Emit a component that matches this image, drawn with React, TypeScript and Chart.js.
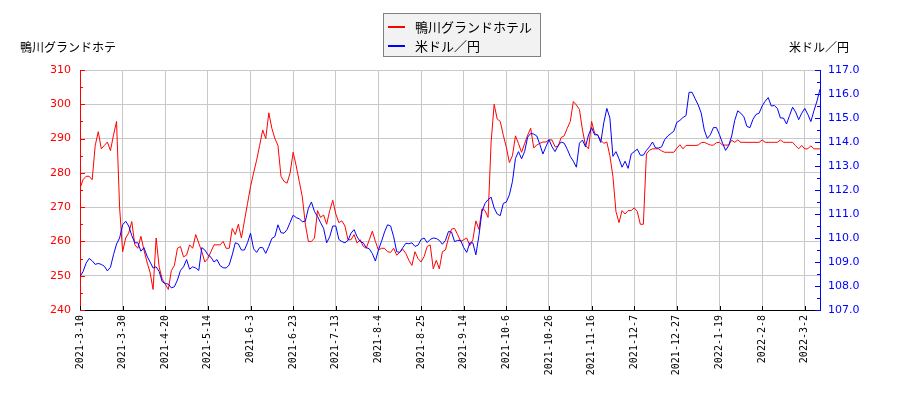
import { useEffect, useRef } from "react";
import { Chart, registerables } from "chart.js";

Chart.register(...registerables);

// one tick label every 14 trading days
const tickLabels = [
  "2021-3-10", "2021-3-30", "2021-4-20", "2021-5-14", "2021-6-3", "2021-6-23",
  "2021-7-13", "2021-8-4", "2021-8-25", "2021-9-14", "2021-10-6", "2021-10-26",
  "2021-11-16", "2021-12-7", "2021-12-27", "2022-1-19", "2022-2-8", "2022-3-2",
];
const tickStep = 14;

const hotelPrices = [
  275.5, 278, 279, 279, 278, 288, 292, 287, 288, 289, 286.5, 291, 295, 270,
  257, 261, 262.5, 265.8, 259, 258, 261.5, 257.5, 254, 251, 246, 261, 252.5, 249, 247.5, 246, 251.5,
  253, 258, 258.5, 255.5, 256, 259, 258, 262, 259.5, 257, 254, 255, 257, 259, 259, 259, 260, 258, 258, 263.8, 262, 265, 261, 266, 271, 276,
  280, 283.7, 288, 292.5, 290, 297.5, 293, 290, 288, 279, 277.5, 277, 280, 286, 282, 277.5, 273,
  265, 260, 260, 261, 269, 267, 267.7, 265, 269, 272, 268, 265.5, 266, 264.5, 260.5, 260.5, 262, 259.5,
  260.5, 258.6, 258, 260.5, 263, 260, 257.5, 258, 258, 257, 256.8, 258, 256, 256.8, 257.7, 256.5, 254.5,
  253, 257, 255, 254, 255.6, 258.5, 259, 252, 254.5, 252, 257, 257.5, 261,
  263.6, 263.8, 262, 260, 260.5, 261, 258.8, 260.5, 266, 263.5, 269.5, 269, 267, 289, 300, 295.7, 295,
  291, 287.5, 283, 285, 290.8, 288.5, 286, 288.5, 291, 293, 287.3, 288.1, 288.6,
  289, 289, 289.6, 289.6, 287.6, 287.7, 290.3, 290.8, 293, 295, 300.8, 299.8, 298.5, 292.5, 288, 287,
  295, 291.5, 291, 289.5, 288.6, 289, 285, 279, 268.7, 265.5, 269, 268, 269, 269, 269.8,
  268.7, 265, 265, 285.5, 286.6, 287, 287, 287, 286.4, 286, 286, 286, 286, 287.2, 288.2, 287, 288, 288,
  288, 288, 288.1, 288.8, 288.9, 288.5, 288.1, 288.1, 288.8, 288.9, 288.1, 288.1,
  288.1, 289.5, 288.9, 289.6, 288.9, 288.9, 288.9, 288.9, 288.9, 288.9, 288.9, 289.6, 288.9, 288.9, 288.9,
  288.9, 288.9, 289.6, 288.9, 288.9, 288.9, 288.9, 287.9, 287, 288, 287, 287, 287.9, 287, 287, 287,
];

const usdJpy = [
  108.39, 108.6, 108.95, 109.15, 109.05, 108.9, 108.94, 108.9, 108.82, 108.63, 108.78, 109.3, 109.75, 110.0,
  110.55, 110.7, 110.5, 110.1, 109.8, 109.8, 109.45, 109.6, 109.25, 109.0, 108.75, 108.8, 108.6, 108.18, 108.1, 108.08, 107.92,
  107.97, 108.25, 108.65, 108.8, 109.1, 108.7, 108.8, 108.75, 108.65, 109.6, 109.5, 109.3, 109.2, 109.0, 109.1, 108.85,
  108.76, 108.75, 108.88, 109.3, 109.8, 109.75, 109.5, 109.5, 109.8, 110.2,
  109.55, 109.4, 109.6, 109.6, 109.36, 109.65, 109.98, 110.06, 110.55, 110.22, 110.2, 110.35, 110.65, 110.95, 110.85, 110.8, 110.68,
  110.7, 111.24, 111.5, 111.1, 110.9, 110.64, 110.4, 109.8, 110.05, 110.5, 110.5, 109.94, 109.85, 109.8, 109.9, 110.2,
  110.35, 110.05, 109.85, 109.8, 109.6, 109.55, 109.35, 109.04, 109.5, 109.85, 110.25, 110.55, 110.5, 110.05, 109.43, 109.4,
  109.6, 109.78, 109.76, 109.8, 109.65, 109.7, 109.94, 110.0, 109.81, 109.94, 110.0, 109.98, 109.9, 109.74, 109.9, 110.27,
  110.25, 109.85, 109.9, 109.9, 109.6, 109.4, 109.8, 109.8, 109.3, 110.1, 111.1, 111.44, 111.6, 111.7, 111.25,
  111.0, 110.93, 111.44, 111.5, 111.8, 112.35, 113.32, 113.6, 113.3, 113.6, 114.2, 114.36, 114.33, 114.25, 113.9,
  113.5, 113.8, 114.1, 113.8, 113.6, 113.85, 114.0, 113.95, 113.7, 113.4, 113.2, 112.95, 113.95, 114.08, 113.8, 114.3,
  114.6, 114.3, 114.3, 113.98, 114.8, 115.4, 115.0, 113.4, 113.6, 113.3, 112.95, 113.2, 112.9, 113.5, 113.6,
  113.7, 113.45, 113.45, 113.65, 113.8, 114.0, 113.75, 113.75, 113.8, 114.1, 114.25, 114.35, 114.45, 114.82, 114.9,
  115.02, 115.1, 116.07, 116.07, 115.8, 115.55, 115.2, 114.5, 114.15, 114.3, 114.6, 114.6, 114.3, 113.95, 113.65,
  113.85, 114.25, 114.9, 115.3, 115.2, 115.05, 114.65, 114.6, 114.95, 115.15, 115.2, 115.5, 115.7, 115.85, 115.5, 115.52,
  115.4, 115.0, 115.0, 114.75, 115.1, 115.45, 115.25, 114.93, 115.2, 115.4, 115.15, 114.85, 115.3, 115.7, 116.2,
];

const seriesNames = ["鴨川グランドホテル", "米ドル／円"];
const leftTitle = "鴨川グランドホテ";
const rightTitle = "米ドル／円";

const RED = "#ff0000";
const BLUE = "#0000ff";
const GRID = "#c8c8c8";
const CJK = '"Noto Sans CJK JP", sans-serif';

// inward tick marks, axis titles and the boxed legend
const decorations = {
  id: "decorations",
  afterDraw(chart: any) {
    const { ctx, chartArea: a, scales } = chart;
    ctx.save();
    ctx.lineWidth = 1;

    ctx.strokeStyle = "#000";
    scales.x.ticks.forEach((t: any) => {
      const px = Math.round(scales.x.getPixelForValue(t.value)) + 0.5;
      ctx.beginPath();
      ctx.moveTo(px, a.bottom - 4);
      ctx.lineTo(px, a.bottom);
      ctx.stroke();
    });

    ctx.strokeStyle = RED;
    scales.y.ticks.forEach((t: any) => {
      const py = Math.round(scales.y.getPixelForValue(t.value)) + 0.5;
      const len = t.value % 10 === 0 ? 5 : 3;
      ctx.beginPath();
      ctx.moveTo(a.left, py);
      ctx.lineTo(a.left + len, py);
      ctx.stroke();
    });

    ctx.strokeStyle = BLUE;
    scales.y1.ticks.forEach((t: any) => {
      const py = Math.round(scales.y1.getPixelForValue(t.value)) + 0.5;
      const len = Number.isInteger(t.value) ? 5 : 3;
      ctx.beginPath();
      ctx.moveTo(a.right, py);
      ctx.lineTo(a.right - len, py);
      ctx.stroke();
    });

    ctx.fillStyle = "#000";
    ctx.font = `12px ${CJK}`;
    ctx.textBaseline = "middle";
    ctx.textAlign = "left";
    ctx.fillText(leftTitle, 20, 47);
    ctx.textAlign = "right";
    ctx.fillText(rightTitle, 849, 47);

    // legend box
    ctx.fillStyle = "#f2f2f2";
    ctx.fillRect(383.5, 13.5, 157, 43);
    ctx.strokeStyle = "#808080";
    ctx.strokeRect(383.5, 13.5, 157, 43);
    const rows = [
      { color: RED, y: 27 },
      { color: BLUE, y: 46 },
    ];
    ctx.font = `13px ${CJK}`;
    ctx.textAlign = "left";
    rows.forEach((r, i) => {
      ctx.strokeStyle = r.color;
      ctx.lineWidth = 2;
      ctx.beginPath();
      ctx.moveTo(388, r.y);
      ctx.lineTo(405, r.y);
      ctx.stroke();
      ctx.fillStyle = "#000";
      ctx.fillText(seriesNames[i], 415, r.y);
    });

    ctx.restore();
  },
};

export default function App() {
  const chartRef = useRef<HTMLCanvasElement>(null);
  const chartInstance = useRef<Chart | null>(null);

  useEffect(() => {
    if (!chartRef.current) return;
    if (chartInstance.current) chartInstance.current.destroy();
    const ctx = chartRef.current.getContext("2d");
    if (!ctx) return;

    chartInstance.current = new Chart(ctx, {
      type: "line",
      data: {
        datasets: [
          {
            label: seriesNames[0],
            data: hotelPrices.map((v, i) => ({ x: i, y: v })),
            borderColor: RED,
            borderWidth: 1,
            pointRadius: 0,
            tension: 0,
            yAxisID: "y",
            order: 1,
          },
          {
            label: seriesNames[1],
            data: usdJpy.map((v, i) => ({ x: i, y: v })),
            borderColor: BLUE,
            borderWidth: 1,
            pointRadius: 0,
            tension: 0,
            yAxisID: "y1",
            order: 0,
          },
        ],
      },
      options: {
        responsive: true,
        maintainAspectRatio: false,
        animation: false,
        layout: { padding: { top: 70, left: 0, right: 0, bottom: 0 } },
        plugins: {
          legend: { display: false },
          tooltip: { enabled: false },
        },
        scales: {
          x: {
            type: "linear",
            min: 0,
            max: hotelPrices.length - 1,
            afterFit: (s: any) => {
              s.height = 90;
            },
            grid: {
              color: (c: any) => (c.tick && c.tick.value === 0 ? "transparent" : GRID),
              drawTicks: false,
            },
            border: { color: "#000" },
            ticks: {
              stepSize: tickStep,
              includeBounds: false,
              autoSkip: false,
              minRotation: 90,
              maxRotation: 90,
              padding: 5,
              color: "#000",
              font: { family: '"DejaVu Sans Mono", monospace', size: 10 },
              callback: (v: any) => tickLabels[Math.round(Number(v) / tickStep)] ?? "",
            },
          },
          y: {
            position: "left",
            min: 240,
            max: 310,
            afterFit: (s: any) => {
              s.width = 80;
            },
            grid: {
              color: (c: any) =>
                c.tick && c.tick.value % 10 === 0 && c.tick.value !== 240 ? GRID : "transparent",
              drawTicks: false,
            },
            border: { color: RED },
            ticks: {
              stepSize: 5,
              autoSkip: false,
              padding: 9,
              color: RED,
              font: { family: '"DejaVu Sans", sans-serif', size: 11 },
              callback: (v: any) => (Number(v) % 10 === 0 ? String(v) : ""),
            },
          },
          y1: {
            position: "right",
            min: 107,
            max: 117,
            afterFit: (s: any) => {
              s.width = 80;
            },
            grid: { drawOnChartArea: false, drawTicks: false },
            border: { color: BLUE },
            ticks: {
              stepSize: 0.5,
              autoSkip: false,
              padding: 8,
              color: BLUE,
              font: { family: '"DejaVu Sans", sans-serif', size: 11 },
              callback: (v: any) => (Number.isInteger(Number(v)) ? Number(v).toFixed(1) : ""),
            },
          },
        },
      },
      plugins: [decorations],
    });

    return () => {
      if (chartInstance.current) {
        chartInstance.current.destroy();
        chartInstance.current = null;
      }
    };
  }, []);

  return (
    <div style={{ position: "absolute", left: 0, top: 0, width: 900, height: 400 }}>
      <canvas ref={chartRef} />
    </div>
  );
}
